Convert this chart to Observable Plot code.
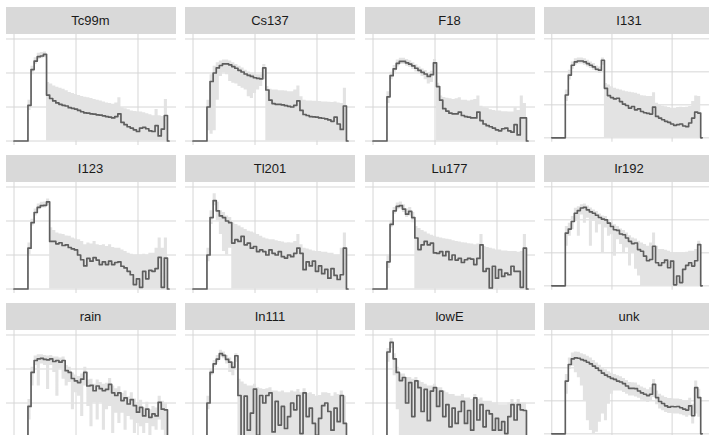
<!DOCTYPE html>
<html>
<head>
<meta charset="utf-8">
<script src="https://cdn.jsdelivr.net/npm/d3@7"></script>
<script src="https://cdn.jsdelivr.net/npm/@observablehq/plot@0.6"></script>
<style>
  html, body { margin: 0; padding: 0; background: #fff; }
  #chart { position: relative; width: 709px; height: 435px; overflow: hidden; background: #fff; font-family: "Liberation Sans", Arial, sans-serif; }
  .strip { position: absolute; width: 170px; height: 27px; background: #d9d9d9; color: #1a1a1a; font-size: 13px; line-height: 28px; text-align: center; }
  .panel { position: absolute; }
  .panel svg { display: block; }
</style>
</head>
<body>
<div id="chart"></div>
<script>
// shared x positions (energy)
const energy = [0,0.05,0.1,0.15,0.2,0.25,0.3,0.35,0.4,0.45,0.5,0.55,0.6,0.65,0.7,0.75,0.8,0.85,0.9,0.95,1,1.05,1.1,1.15,1.2,1.25,1.3,1.35,1.4,1.45,1.5,1.55,1.6,1.65,1.7,1.75,1.8,1.85,1.9,1.95,2,2.05,2.1,2.15,2.2,2.25,2.3,2.35,2.4,2.45,2.5];
const xTicks = [0, 1, 2];
const yTicks = [0, 1, 2, 3];
const panels = ["Tc99m","Cs137","F18","I131","I123","Tl201","Lu177","Ir192","rain","In111","lowE","unk"];

const tc99m    = [0,0,0,0,0,1.05,2.1,2.35,2.48,2.5,2.55,1.35,1.25,1.18,1.12,1.08,1.05,1.03,0.98,0.96,0.94,0.9,0.86,0.83,0.82,0.8,0.79,0.77,0.76,0.74,0.72,0.7,0.68,0.72,0.8,0.55,0.48,0.42,0.38,0.33,0.28,0.38,0.4,0.36,0.3,0.28,0.45,0.15,0.35,0.75,0];
const tc99m_lo = [0,0,0,0,0,0.9,1.95,2.25,2.4,2.42,2.45,0,0,0,0,0,0,0,0,0,0,0,0,0,0,0,0,0,0,0,0,0,0,0,0,0,0,0,0,0,0,0,0,0,0,0,0,0,0,0,0];
const tc99m_hi = [0,0,0,0,0,1.2,2.2,2.45,2.58,2.6,2.62,1.72,1.68,1.62,1.58,1.55,1.52,1.48,1.43,1.4,1.37,1.34,1.31,1.29,1.27,1.25,1.22,1.2,1.18,1.15,1.12,1.1,1.08,1.12,1.27,0.98,0.95,0.92,0.88,0.87,0.86,0.85,0.83,0.8,0.77,0.74,0.93,0.74,0.72,1.22,0];

const cs137    = [0,0,0,0,0,1.0,1.75,2.0,2.15,2.22,2.27,2.27,2.24,2.19,2.14,2.08,2.03,1.97,1.93,1.9,1.86,1.84,1.83,2.15,1.5,1.2,1.1,1.08,1.08,1.06,1.04,1.02,1.0,1.05,1.18,0.9,0.78,0.75,0.72,0.71,0.7,0.68,0.67,0.65,0.62,0.58,0.7,0.5,0.34,1.03,0];
const cs137_lo = [0,0,0,0,0,0.3,0.2,0.3,1.2,1.9,2.0,1.95,1.75,1.7,1.68,1.6,1.55,1.5,1.3,1.25,1.4,1.5,1.6,1.8,0,0,0,0,0,0,0,0,0,0,0,0,0,0,0,0,0,0,0,0,0,0,0,0,0,0,0];
const cs137_hi = [0,0,0,0,0,1.2,1.95,2.2,2.3,2.35,2.38,2.38,2.35,2.3,2.25,2.2,2.15,2.08,2.03,2.0,1.97,1.95,1.95,2.25,1.6,1.52,1.5,1.5,1.48,1.48,1.47,1.45,1.45,1.5,1.62,1.3,1.2,1.18,1.18,1.17,1.17,1.16,1.15,1.15,1.14,1.13,1.15,1.12,1.1,1.55,0];

const f18    = [0,0,0,0,0,1.3,1.92,2.12,2.28,2.34,2.34,2.3,2.26,2.21,2.14,2.08,2.02,1.97,1.9,1.95,2.3,1.6,1.2,0.95,0.88,0.82,0.8,0.8,0.85,0.75,0.72,0.7,0.68,0.68,0.85,0.6,0.5,0.45,0.42,0.38,0.33,0.3,0.36,0.38,0.3,0.26,0.48,0.18,0.68,0.68,0];
const f18_lo = [0,0,0,0,0,1.1,1.8,2.02,2.18,2.25,2.25,2.2,2.16,2.1,2.03,1.97,1.9,1.8,1.68,1.72,2.15,0,0,0,0,0,0,0,0,0,0,0,0,0,0,0,0,0,0,0,0,0,0,0,0,0,0,0,0,0,0];
const f18_hi = [0,0,0,0,0,1.45,2.02,2.22,2.38,2.43,2.43,2.4,2.36,2.3,2.24,2.18,2.12,2.07,2.0,2.05,2.4,1.7,1.32,1.28,1.26,1.24,1.22,1.24,1.27,1.2,1.2,1.18,1.2,1.22,1.32,1.02,0.98,0.96,0.92,0.9,0.88,0.88,0.86,0.86,0.85,0.85,0.98,0.9,1.32,1.1,0];

const i131    = [0,0,0,0,0,1.3,1.9,2.2,2.3,2.33,2.33,2.3,2.25,2.2,2.15,2.08,2.05,2.35,1.5,1.28,1.22,1.18,1.2,1.1,1.02,0.98,0.9,0.95,0.85,0.88,0.8,0.76,0.74,0.72,0.93,0.65,0.6,0.55,0.5,0.47,0.42,0.38,0.4,0.42,0.36,0.34,0.45,0.6,0.78,0.75,0];
const i131_lo = [0,0,0,0,0,1.1,1.75,2.08,2.2,2.24,2.24,2.2,2.15,2.1,2.05,1.98,1.95,2.2,0,0,0,0,0,0,0,0,0,0,0,0,0,0,0,0,0,0,0,0,0,0,0,0,0,0,0,0,0,0,0,0,0];
const i131_hi = [0,0,0,0,0,1.45,2.05,2.3,2.4,2.42,2.42,2.4,2.35,2.3,2.25,2.18,2.15,2.42,1.65,1.6,1.55,1.5,1.47,1.45,1.42,1.4,1.38,1.37,1.35,1.32,1.28,1.27,1.25,1.25,1.37,1.05,0.98,0.96,0.94,0.92,0.9,0.9,0.92,0.93,0.92,0.93,0.95,1.1,1.27,1.25,0];

const i123    = [0,0,0,0,0,1.2,1.95,2.25,2.4,2.45,2.46,2.56,1.4,1.4,1.33,1.36,1.28,1.3,1.22,1.18,1.15,1.0,0.86,0.68,0.9,0.82,0.92,0.85,0.72,0.8,0.72,0.82,0.72,0.78,0.8,0.67,0.62,0.52,0.42,0.13,0.3,0.05,0.52,0.3,0.55,0.52,0.6,0.93,0.05,0.91,0];
const i123_lo = [0,0,0,0,0,1.0,1.85,2.15,2.32,2.38,2.38,2.45,0,0,0,0,0,0,0,0,0,0,0,0,0,0,0,0,0,0,0,0,0,0,0,0,0,0,0,0,0,0,0,0,0,0,0,0,0,0,0];
const i123_hi = [0,0,0,0,0,1.35,2.05,2.35,2.5,2.55,2.56,2.65,1.8,1.72,1.65,1.62,1.6,1.56,1.55,1.5,1.47,1.45,1.4,1.3,1.35,1.32,1.4,1.3,1.28,1.3,1.25,1.3,1.22,1.2,1.2,1.15,1.1,1.05,1.02,1.0,1.0,1.0,1.02,1.0,1.05,1.05,1.2,1.5,1.2,1.5,0];

const tl201    = [0,0,0,0,0,1.0,2.1,2.6,2.3,2.15,2.1,2.0,1.95,1.35,1.45,1.4,1.55,1.3,1.35,1.2,1.25,1.1,1.15,1.1,1.0,1.15,1.05,1.0,1.1,0.95,0.91,1.0,0.95,1.05,1.2,1.05,0.57,0.8,0.68,0.82,0.52,0.68,0.45,0.58,0.32,0.6,0.4,0.28,0.42,1.2,0];
const tl201_lo = [0,0,0,0,0,0.8,1.9,2.45,2.0,1.6,1.1,1.0,1.2,0,0,0,0,0,0,0,0,0,0,0,0,0,0,0,0,0,0,0,0,0,0,0,0,0,0,0,0,0,0,0,0,0,0,0,0,0,0];
const tl201_hi = [0,0,0,0,0,1.2,2.3,2.8,2.55,2.3,2.25,2.15,2.1,1.94,1.9,1.85,1.8,1.75,1.7,1.68,1.65,1.6,1.55,1.5,1.47,1.45,1.45,1.42,1.4,1.38,1.35,1.36,1.35,1.4,1.6,1.3,1.2,1.18,1.15,1.12,1.1,1.1,1.08,1.08,1.05,1.05,1.0,1.0,1.2,1.65,0];

const lu177    = [0,0,0,0,0,0.8,1.9,2.3,2.43,2.45,2.35,2.2,2.28,2.1,1.5,1.16,1.3,1.4,1.3,1.35,1.06,1.05,1.1,0.98,1.1,0.86,1.0,0.85,0.9,0.78,0.86,0.9,0.88,0.72,0.9,1.3,0.52,0.6,0.03,0.67,0.32,0.57,0.37,0.47,0.42,0.67,0.52,0.52,0.05,1.2,0];
const lu177_lo = [0,0,0,0,0,0.6,1.8,2.2,2.33,2.35,2.25,2.1,2.15,1.95,0,0,0,0,0,0,0,0,0,0,0,0,0,0,0,0,0,0,0,0,0,0,0,0,0,0,0,0,0,0,0,0,0,0,0,0,0];
const lu177_hi = [0,0,0,0,0,1.0,2.0,2.4,2.53,2.56,2.48,2.35,2.4,2.25,1.84,1.78,1.72,1.68,1.62,1.58,1.55,1.52,1.5,1.48,1.46,1.45,1.42,1.4,1.38,1.36,1.35,1.33,1.32,1.3,1.32,1.6,1.25,1.22,1.2,1.18,1.15,1.15,1.12,1.12,1.1,1.1,1.1,1.08,1.1,1.6,0];

const ir192    = [0,0,0,0,0,1.6,1.72,1.95,2.2,2.28,2.36,2.38,2.3,2.24,2.2,2.14,2.07,2.02,2.0,1.9,1.8,1.7,1.68,1.57,1.55,1.45,1.35,1.28,1.3,1.1,1.05,0.9,0.76,0.8,1.2,0.7,0.62,0.7,0.78,0.55,0.75,0.03,0.3,0.1,0.5,0.62,0.7,0.6,0.76,1.25,0];
const ir192_lo = [0,0,0,0,0,1.2,1.5,1.7,1.95,1.5,2.15,1.9,2.05,1.2,1.95,1.6,1.85,1.0,1.75,1.5,1.55,0.9,1.4,1.25,1.0,1.15,0.6,1.0,0.5,0.3,0,0,0,0,0,0,0,0,0,0,0,0,0,0,0,0,0,0,0,0,0];
const ir192_hi = [0,0,0,0,0,1.8,1.9,2.1,2.35,2.4,2.46,2.48,2.42,2.36,2.3,2.25,2.18,2.12,2.1,2.0,1.92,1.85,1.8,1.72,1.68,1.6,1.52,1.45,1.42,1.35,1.3,1.25,1.2,1.3,1.6,1.2,1.1,1.1,1.08,1.05,1.0,1.0,0.98,0.98,1.0,1.02,1.05,1.05,1.1,1.35,0];

const rain    = [0,0,0,0,0,0.9,1.9,2.25,2.3,2.31,2.28,2.27,2.3,2.22,2.25,2.2,2.25,1.95,1.9,1.72,1.65,1.6,1.7,1.9,1.5,1.52,1.36,1.5,1.42,1.36,1.4,1.55,1.3,1.22,1.3,1.07,1.15,0.97,1.1,0.92,0.73,0.87,0.62,0.82,0.58,0.68,0.62,1.02,0.82,0.8,0];
const rain_lo = [0,0,0,0,0,0.5,1.5,2.1,1.5,2.15,2.1,1.4,2.1,1.9,1.2,2.0,1.7,1.5,1.6,0.8,1.3,1.2,0.6,1.5,0.9,0.3,1.0,0.5,1.0,0.2,0.8,0.9,0.1,0.7,0.4,0.7,0.2,0.6,0.5,0.1,0.4,0.3,0.1,0.4,0,0.3,0.2,0.5,0.2,0,0];
const rain_hi = [0,0,0,0,0,1.1,2.05,2.38,2.42,2.42,2.4,2.38,2.4,2.35,2.35,2.32,2.35,2.1,2.05,1.88,1.82,1.78,1.85,2.05,1.68,1.7,1.55,1.68,1.6,1.55,1.58,1.72,1.5,1.42,1.48,1.28,1.35,1.18,1.3,1.12,0.95,1.08,0.85,1.02,0.8,0.9,0.85,1.2,1.05,1.0,0];

const in111    = [0,0,0,0,0,1.0,1.9,2.15,2.29,2.45,2.4,2.28,2.2,2.05,2.39,1.22,0.02,1.2,0.2,0.7,1.41,0.05,1.22,1.0,1.22,1.3,0.15,1.05,0.35,0.9,0.25,0.6,1.0,0.8,1.22,0.1,1.3,0.6,0.85,0.4,0.05,0.55,0.92,1.0,0.75,0.2,0.85,0.45,1.22,0.4,0];
const in111_lo = [0,0,0,0,0,0.8,1.8,2.05,2.2,2.35,2.3,2.15,1.9,1.8,2.2,0,0,0,0,0,0,0,0,0,0,0,0,0,0,0,0,0,0,0,0,0,0,0,0,0,0,0,0,0,0,0,0,0,0,0,0];
const in111_hi = [0,0,0,0,0,1.2,2.0,2.25,2.4,2.55,2.5,2.4,2.32,2.2,2.45,1.7,1.62,1.55,1.5,1.5,1.55,1.45,1.42,1.4,1.42,1.45,1.35,1.35,1.32,1.35,1.3,1.3,1.35,1.32,1.4,1.3,1.42,1.28,1.3,1.25,1.2,1.22,1.3,1.3,1.28,1.2,1.3,1.25,1.35,1.2,0];

const lowE    = [0,0,0,0,0,2.5,2.78,2.3,1.9,1.66,1.75,1.0,1.6,0.6,1.65,1.45,0.75,1.4,0.48,1.35,1.45,0.9,1.35,0.6,0.95,0.3,0.85,0.4,0.75,1.05,0.4,0.78,0.2,1.15,0.5,0.95,0.3,0.78,0.68,0.2,0.55,0.2,0.45,0.1,0.6,0.95,0.5,0.95,0.8,0.78,0];
const lowE_lo = [0,0,0,0,0,2.2,2.6,1.8,0.8,0,0,0,0,0,0,0,0,0,0,0,0,0,0,0,0,0,0,0,0,0,0,0,0,0,0,0,0,0,0,0,0,0,0,0,0,0,0,0,0,0,0];
const lowE_hi = [0,0,0,0,0,2.6,2.9,2.45,2.05,1.85,1.85,1.75,1.75,1.7,1.75,1.65,1.6,1.55,1.5,1.5,1.55,1.45,1.45,1.35,1.3,1.25,1.25,1.2,1.2,1.25,1.15,1.15,1.1,1.25,1.1,1.15,1.05,1.05,1.05,1.0,1.0,0.95,0.95,0.95,1.0,1.1,1.0,1.1,1.0,1.0,0];

const unk    = [0,0,0,0,0,1.6,2.1,2.27,2.3,2.29,2.25,2.22,2.17,2.12,2.05,1.99,1.92,1.84,1.78,1.73,1.68,1.65,1.6,1.57,1.52,1.45,1.38,1.38,1.37,1.3,1.24,1.2,1.16,1.2,1.5,1.1,0.98,0.92,0.85,0.81,0.83,0.82,0.83,0.79,0.75,0.72,0.85,0.55,1.4,1.1,0];
const unk_lo = [0,0,0,0,0,1.2,1.95,2.05,1.85,1.7,1.45,1.0,0.4,0.1,0,0.05,0.35,0.6,0.4,0.9,1.2,1.3,1.3,1.3,1.25,1.2,1.15,1.15,1.12,1.08,1.02,0.98,0.95,0.98,1.1,0.88,0.75,0.7,0.65,0.62,0.62,0.6,0.6,0.58,0.55,0.5,0.55,0.3,0.6,0.5,0];
const unk_hi = [0,0,0,0,0,1.8,2.3,2.45,2.48,2.47,2.43,2.4,2.35,2.3,2.22,2.15,2.08,2.0,1.94,1.88,1.84,1.8,1.76,1.73,1.68,1.62,1.56,1.55,1.54,1.47,1.42,1.38,1.34,1.4,1.65,1.3,1.2,1.15,1.1,1.07,1.07,1.06,1.06,1.04,1.0,0.98,1.08,0.9,1.6,1.35,0];

const series = {
  "Tc99m": [tc99m, tc99m_lo, tc99m_hi],
  "Cs137": [cs137, cs137_lo, cs137_hi],
  "F18":   [f18, f18_lo, f18_hi],
  "I131":  [i131, i131_lo, i131_hi],
  "I123":  [i123, i123_lo, i123_hi],
  "Tl201": [tl201, tl201_lo, tl201_hi],
  "Lu177": [lu177, lu177_lo, lu177_hi],
  "Ir192": [ir192, ir192_lo, ir192_hi],
  "rain":  [rain, rain_lo, rain_hi],
  "In111": [in111, in111_lo, in111_hi],
  "lowE":  [lowE, lowE_lo, lowE_hi],
  "unk":   [unk, unk_lo, unk_hi]
};

const chart = document.getElementById("chart");
const W = 170, H = 111, STRIP = 27;

panels.forEach((name, i) => {
  const r = Math.floor(i / 4), c = i % 4;
  const left = 5.5 + 179.5 * c, top = 6.5 + 148 * r;
  const [ys, los, his] = series[name];
  const rows = energy.map((x, k) => ({x, y: ys[k], lo: los[k], hi: his[k]}));

  const strip = document.createElement("div");
  strip.className = "strip";
  strip.style.left = left + "px";
  strip.style.top = top + "px";
  strip.textContent = name;
  chart.appendChild(strip);

  const svg = Plot.plot({
    width: W, height: H,
    marginTop: 0, marginRight: 0, marginBottom: 0, marginLeft: 0,
    x: {domain: [-0.121, 2.621], axis: null},
    y: {domain: [-0.132, 3.132], axis: null},
    style: {background: "white", overflow: "visible"},
    marks: [
      Plot.gridY(yTicks, {stroke: "#d6d6d6", strokeOpacity: 1, strokeWidth: 1}),
      Plot.gridX(xTicks, {stroke: "#d6d6d6", strokeOpacity: 1, strokeWidth: 1}),
      Plot.areaY(rows, {x: "x", y1: "lo", y2: "hi", curve: "step", fill: "#e3e3e3"}),
      Plot.lineY(rows, {x: "x", y: "y", curve: "step", stroke: "#5e5e5e", strokeWidth: 1.7})
    ]
  });
  const wrap = document.createElement("div");
  wrap.className = "panel";
  wrap.style.left = left + "px";
  wrap.style.top = (top + STRIP) + "px";
  wrap.appendChild(svg);
  chart.appendChild(wrap);
});
</script>
</body>
</html>
